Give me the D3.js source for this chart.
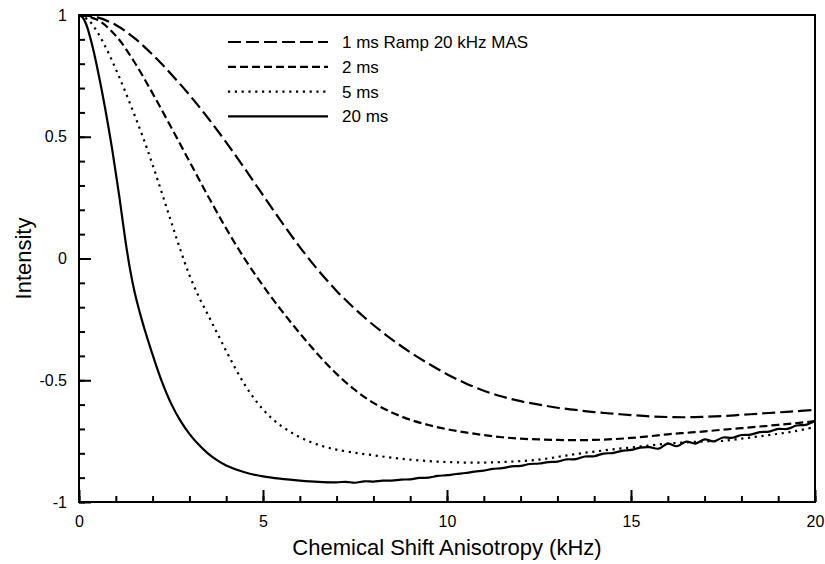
<!DOCTYPE html>
<html>
<head>
<meta charset="utf-8">
<script src="https://cdn.jsdelivr.net/npm/d3@7"></script>
<style>
  body { margin: 0; background: #fff; }
  text { font-family: "Liberation Sans", Arial, Helvetica, sans-serif; fill: #000; }
</style>
</head>
<body>
<div id="chart"></div>
<script>
// values (x in kHz, y = intensity)
var x1ms = [0, 0.5, 1, 1.5, 2, 2.5, 3, 3.5, 4, 4.5, 5, 5.5, 6, 6.5, 7, 7.5, 8, 8.5, 9, 9.5, 10, 10.5, 11, 11.5, 12, 12.5, 13, 13.5,
  14, 14.5, 15, 15.5, 16, 16.5, 17, 17.5, 18, 18.5, 19, 19.5, 20];
var y1ms = [1, 0.99, 0.959, 0.906, 0.837, 0.758, 0.672, 0.578, 0.477, 0.37, 0.26, 0.151, 0.047, -0.048, -0.133, -0.207, -0.273, -0.332,
  -0.385, -0.432, -0.475, -0.512, -0.543, -0.567, -0.586, -0.6, -0.613, -0.622, -0.631, -0.637, -0.643, -0.648, -0.651, -0.652, -0.65,
  -0.647, -0.642, -0.637, -0.632, -0.627, -0.622];

var x2ms = [0, 0.5, 1, 1.5, 2, 2.5, 3, 3.5, 4, 4.5, 5, 5.5, 6, 6.5, 7, 7.5, 8, 8.5, 9, 9.5, 10, 10.5, 11, 11.5, 12, 12.5, 13, 13.5,
  14, 14.5, 15, 15.5, 16, 16.5, 17, 17.5, 18, 18.5, 19, 19.5, 20];
var y2ms = [1, 0.98, 0.915, 0.808, 0.678, 0.54, 0.399, 0.258, 0.123, -0.001, -0.112, -0.213, -0.307, -0.395, -0.474, -0.54, -0.593,
  -0.632, -0.662, -0.684, -0.701, -0.714, -0.725, -0.734, -0.74, -0.743, -0.745, -0.746, -0.745, -0.742, -0.737, -0.73, -0.722, -0.716,
  -0.71, -0.703, -0.697, -0.69, -0.683, -0.676, -0.668];

var x5ms = [0, 0.25, 0.5, 0.75, 1, 1.25, 1.5, 1.75, 2, 2.25, 2.5, 2.75, 3, 3.25, 3.5, 3.75, 4, 4.25, 4.5, 4.75, 5, 5.25, 5.5, 5.75,
  6, 6.25, 6.5, 6.75, 7, 7.5, 8, 8.5, 9, 9.5, 10, 10.5, 11, 11.5, 12, 12.5, 13, 13.5, 14, 14.5, 15, 15.5, 16, 16.5, 17, 17.5, 18,
  18.5, 19, 19.5, 20];
var y5ms = [1, 0.98, 0.93, 0.86, 0.778, 0.688, 0.593, 0.493, 0.385, 0.27, 0.153, 0.038, -0.068, -0.155, -0.23, -0.305, -0.38, -0.452,
  -0.517, -0.573, -0.62, -0.658, -0.688, -0.713, -0.734, -0.751, -0.765, -0.776, -0.785, -0.798, -0.808, -0.818, -0.826, -0.832, -0.836,
  -0.838, -0.838, -0.836, -0.832, -0.826, -0.815, -0.803, -0.793, -0.784, -0.776, -0.768, -0.76, -0.755, -0.751, -0.749, -0.74, -0.73,
  -0.72, -0.708, -0.692];

var x20ms = [0, 0.1, 0.2, 0.3, 0.4, 0.5, 0.6, 0.7, 0.8, 0.9, 1.0, 1.1, 1.2, 1.3, 1.4, 1.5, 1.6, 1.7, 1.8, 1.9, 2.0, 2.25, 2.5, 2.75,
  3.0, 3.25, 3.5, 3.75, 4.0, 4.5, 5.0, 5.5, 6.0, 6.5,
  7.0, 7.25, 7.5, 7.75, 8.0, 8.25, 8.5, 8.75, 9.0, 9.25, 9.5, 9.75, 10, 10.25, 10.5, 10.75, 11, 11.25, 11.5, 11.75, 12, 12.25, 12.5, 12.75,
  13, 13.25, 13.5, 13.75, 14, 14.25, 14.5, 14.75, 15, 15.25, 15.5, 15.75, 16, 16.25, 16.5, 16.75, 17, 17.25, 17.5, 17.75, 18, 18.25, 18.5,
  18.75, 19, 19.25, 19.5, 19.75, 20];
var y20ms = [1, 0.99, 0.96, 0.91, 0.85, 0.78, 0.705, 0.625, 0.54, 0.45, 0.35, 0.25, 0.14, 0.035, -0.055, -0.13, -0.192, -0.248, -0.3,
  -0.348, -0.395, -0.505, -0.595, -0.665, -0.72, -0.764, -0.8, -0.828, -0.85, -0.878, -0.895, -0.905, -0.912, -0.917,
  -0.919, -0.917, -0.921, -0.915, -0.916, -0.912, -0.912, -0.908, -0.907, -0.901, -0.9, -0.893, -0.89, -0.885, -0.881, -0.875, -0.871, -0.864, -0.861, -0.854, -0.852, -0.844, -0.842, -0.836,
  -0.834, -0.825, -0.824, -0.813, -0.812, -0.801, -0.799, -0.79, -0.786, -0.777, -0.775, -0.781, -0.76, -0.771, -0.752, -0.76, -0.743, -0.751, -0.735, -0.736, -0.725, -0.723, -0.713,
  -0.711, -0.7, -0.7, -0.686, -0.683, -0.666];

var seriesNames = ["1 ms Ramp 20 kHz MAS", "2 ms", "5 ms", "20 ms"];
var xTicks = [0, 5, 10, 15, 20];
var yTicks = [-1, -0.5, 0, 0.5, 1];

var width = 825, height = 564;
var plotLeft = 79, plotRight = 815, plotTop = 15, plotBottom = 502;

var svg = d3.select("#chart").append("svg")
  .attr("width", width)
  .attr("height", height);

var x = d3.scaleLinear().domain([0, 20]).range([plotLeft, plotRight]);
var y = d3.scaleLinear().domain([-1, 1]).range([plotBottom, plotTop]);

var dashes = ["13,5", "8,4", "2.2,4.6", null];
var xs = [x1ms, x2ms, x5ms, x20ms];
var ys = [y1ms, y2ms, y5ms, y20ms];

var line = d3.line()
  .x(function(d) { return x(d[0]); })
  .y(function(d) { return y(d[1]); })
  .curve(d3.curveCatmullRom);

svg.append("clipPath").attr("id", "plotclip")
  .append("rect")
  .attr("x", plotLeft).attr("y", plotTop - 2)
  .attr("width", plotRight - plotLeft).attr("height", plotBottom - plotTop + 2);

for (var i = 0; i < 4; i++) {
  var pts = xs[i].map(function(v, j) { return [v, ys[i][j]]; });
  svg.append("path")
    .datum(pts)
    .attr("d", line)
    .attr("clip-path", "url(#plotclip)")
    .attr("fill", "none")
    .attr("stroke", "#000")
    .attr("stroke-width", 2.2)
    .attr("stroke-dasharray", dashes[i]);
}

// axes: ticks point inward, plain hyphen for negatives
var xAxis = d3.axisBottom(x).tickValues(xTicks).tickSize(-12).tickPadding(14).tickFormat(function(d) { return String(d); });
var xMinor = d3.axisBottom(x).tickValues(d3.range(0, 21, 1)).tickSize(-6).tickFormat("");
var yAxis = d3.axisLeft(y).tickValues(yTicks).tickSize(-12).tickPadding(12).tickFormat(function(d) { return String(d); });
var yMinor = d3.axisLeft(y).tickValues(d3.range(-10, 11, 1).map(function(v) { return v / 10; })).tickSize(-6).tickFormat("");

[xMinor, xAxis].forEach(function(a) {
  var g = svg.append("g").attr("transform", "translate(0," + plotBottom + ")").call(a);
  g.select(".domain").remove();
  g.selectAll("line").attr("stroke", "#000").attr("stroke-width", 2);
  g.selectAll("text").style("font-size", "16px").attr("dy", "0.71em");
});
[yMinor, yAxis].forEach(function(a) {
  var g = svg.append("g").attr("transform", "translate(" + plotLeft + ",0)").call(a);
  g.select(".domain").remove();
  g.selectAll("line").attr("stroke", "#000").attr("stroke-width", 2);
  g.selectAll("text").style("font-size", "16px");
});

svg.append("rect")
  .attr("x", plotLeft).attr("y", plotTop)
  .attr("width", plotRight - plotLeft).attr("height", plotBottom - plotTop)
  .attr("fill", "none")
  .attr("stroke", "#000")
  .attr("stroke-width", 2);

// titles
svg.append("text")
  .attr("x", (plotLeft + plotRight) / 2)
  .attr("y", 555)
  .attr("text-anchor", "middle")
  .style("font-size", "22px")
  .text("Chemical Shift Anisotropy (kHz)");

svg.append("text")
  .attr("transform", "translate(31," + ((plotTop + plotBottom) / 2) + ") rotate(-90)")
  .attr("text-anchor", "middle")
  .style("font-size", "22px")
  .text("Intensity");

// legend
var legend = svg.append("g");
for (var i = 0; i < 4; i++) {
  var ly = 42 + i * 24.8;
  legend.append("line")
    .attr("x1", 228).attr("x2", 328)
    .attr("y1", ly).attr("y2", ly)
    .attr("stroke", "#000")
    .attr("stroke-width", 2.2)
    .attr("stroke-dasharray", dashes[i]);
  legend.append("text")
    .attr("x", 342)
    .attr("y", ly)
    .attr("dy", "0.35em")
    .style("font-size", "17px")
    .text(seriesNames[i]);
}
</script>
</body>
</html>
